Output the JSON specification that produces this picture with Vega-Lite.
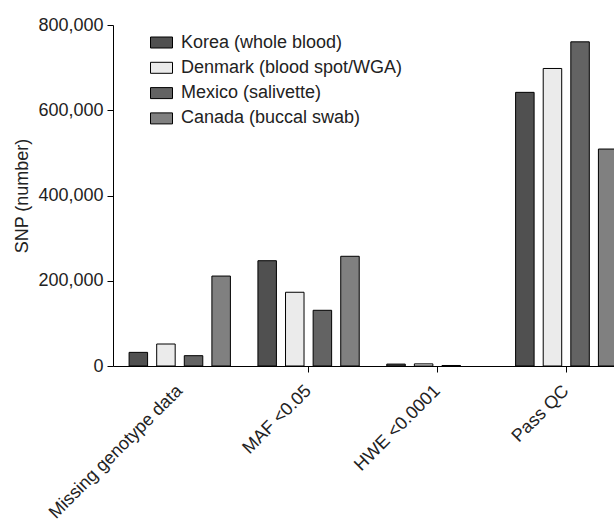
{
  "$schema": "https://vega.github.io/schema/vega-lite/v6.json",
  "autosize": {"type": "none"},
  "padding": {"left": 113, "top": 25, "right": 0, "bottom": 154},
  "width": 501,
  "height": 341,
  "background": "white",
  "config": {
    "font": "Liberation Sans",
    "view": {"stroke": null},
    "axis": {"grid": false, "domainColor": "black", "tickColor": "black", "labelColor": "#222", "titleColor": "#222", "labelFont": "Liberation Sans", "titleFont": "Liberation Sans"}
  },
  "data": {
    "values": [
      {"filter": "Missing genotype data", "site": "Korea (whole blood)", "snp": 32000},
      {"filter": "Missing genotype data", "site": "Denmark (blood spot/WGA)", "snp": 51600},
      {"filter": "Missing genotype data", "site": "Mexico (salivette)", "snp": 24200},
      {"filter": "Missing genotype data", "site": "Canada (buccal swab)", "snp": 211000},
      {"filter": "MAF <0.05", "site": "Korea (whole blood)", "snp": 247000},
      {"filter": "MAF <0.05", "site": "Denmark (blood spot/WGA)", "snp": 173000},
      {"filter": "MAF <0.05", "site": "Mexico (salivette)", "snp": 130700},
      {"filter": "MAF <0.05", "site": "Canada (buccal swab)", "snp": 257400},
      {"filter": "HWE <0.0001", "site": "Korea (whole blood)", "snp": 4500},
      {"filter": "HWE <0.0001", "site": "Denmark (blood spot/WGA)", "snp": 5000},
      {"filter": "HWE <0.0001", "site": "Mexico (salivette)", "snp": 1200},
      {"filter": "Pass QC", "site": "Korea (whole blood)", "snp": 642000},
      {"filter": "Pass QC", "site": "Denmark (blood spot/WGA)", "snp": 698000},
      {"filter": "Pass QC", "site": "Mexico (salivette)", "snp": 760500},
      {"filter": "Pass QC", "site": "Canada (buccal swab)", "snp": 509000}
    ]
  },
  "mark": {"type": "bar", "stroke": "black", "strokeWidth": 1},
  "encoding": {
    "x": {
      "field": "filter",
      "type": "nominal",
      "sort": ["Missing genotype data", "MAF <0.05", "HWE <0.0001", "Pass QC"],
      "scale": {"range": [0, 520], "paddingInner": 0.143, "paddingOuter": 0.0895},
      "axis": {
        "title": null,
        "labelAngle": -45,
        "labelAlign": "right",
        "labelBaseline": "middle",
        "labelFontSize": 18,
        "labelPadding": 16,
        "labelLimit": 0,
        "tickSize": 6,
        "tickOpacity": {"condition": {"test": "datum.value === 'Missing genotype data'", "value": 0}, "value": 1}
      }
    },
    "xOffset": {
      "field": "site",
      "type": "nominal",
      "sort": ["Korea (whole blood)", "Denmark (blood spot/WGA)", "Mexico (salivette)", "Canada (buccal swab)"],
      "scale": {"paddingInner": 0.33, "paddingOuter": 0.165}
    },
    "y": {
      "field": "snp",
      "type": "quantitative",
      "scale": {"domain": [0, 800000]},
      "axis": {
        "title": "SNP (number)",
        "titleFontSize": 18,
        "titleFontWeight": "normal",
        "titlePadding": 6,
        "labelFontSize": 18,
        "labelPadding": 4,
        "tickSize": 6,
        "values": [0, 200000, 400000, 600000, 800000],
        "format": ",d"
      }
    },
    "fill": {
      "field": "site",
      "type": "nominal",
      "sort": ["Korea (whole blood)", "Denmark (blood spot/WGA)", "Mexico (salivette)", "Canada (buccal swab)"],
      "scale": {"range": ["#505050", "#ebebeb", "#636363", "#808080"]},
      "legend": {
        "title": null,
        "orient": "none",
        "legendX": 37,
        "legendY": 6,
        "padding": 0,
        "symbolType": "M-1,-0.5H1V0.5H-1Z",
        "symbolSize": 484,
        "symbolStrokeColor": "black",
        "symbolStrokeWidth": 1,
        "labelFontSize": 18,
        "labelColor": "#222",
        "labelOffset": 8,
        "labelLimit": 0,
        "rowPadding": 4.3
      }
    }
  }
}
